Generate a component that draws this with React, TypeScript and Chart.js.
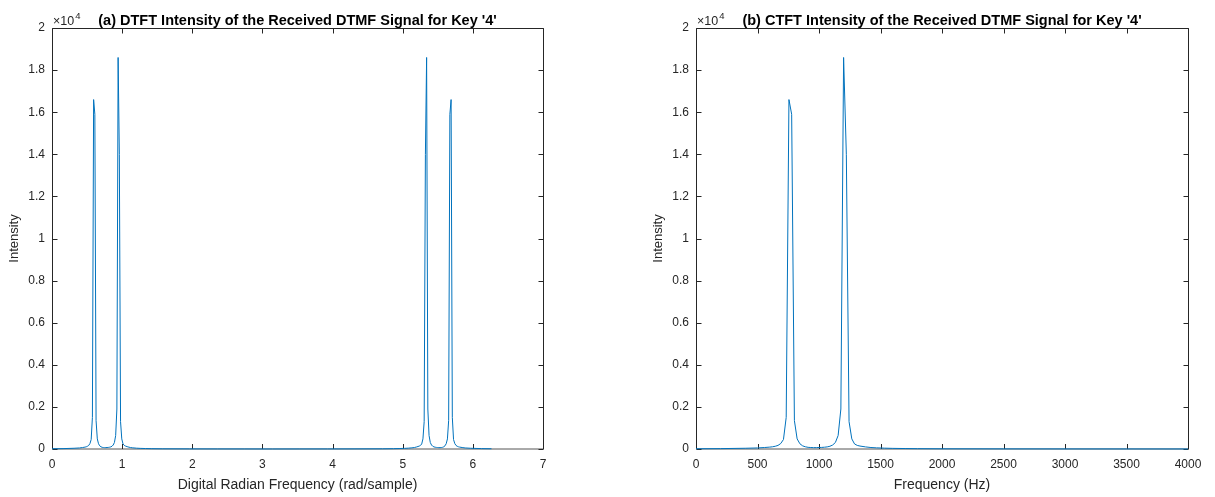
import React, { useEffect, useRef } from "react";
import { Chart, registerables } from "chart.js";

Chart.register(...registerables);

// ---------- data ----------
const dtftOmega = [
  0, 0.1571, 0.3142, 0.3927, 0.4363, 0.4712, 0.4887, 0.5061, 0.5236, 0.5411, 0.5585, 0.576, 0.5934, 0.6109,
  0.6283, 0.6458, 0.6632, 0.6807, 0.6981, 0.7156, 0.733, 0.7505, 0.7679, 0.7854, 0.8029, 0.8203, 0.8378,
  0.8552, 0.8727, 0.8901, 0.9076, 0.925, 0.9425, 0.9599, 0.9774, 0.9948, 1.0123, 1.0297, 1.0472, 1.0821,
  1.117, 1.1519, 1.2043, 1.2566, 1.3352, 1.4137, 1.5708, 1.9635, 2.3562, 2.7489, 3.1416,
  3.5343, 3.927, 4.3197, 4.7124, 4.8695, 4.948, 5.0266, 5.0789, 5.1313, 5.1662, 5.2011, 5.236, 5.2535,
  5.2709, 5.2884, 5.3058, 5.3233, 5.3407, 5.3582, 5.3756, 5.3931, 5.4105, 5.428, 5.4454, 5.4629, 5.4803,
  5.4978, 5.5153, 5.5327, 5.5502, 5.5676, 5.5851, 5.6025, 5.62, 5.6374, 5.6549, 5.6723, 5.6898, 5.7072,
  5.7247, 5.7421, 5.7596, 5.7771, 5.7945, 5.812, 5.8469, 5.8905, 5.969, 6.1261, 6.2657,
];
const dtftIntensity = [
  12, 18, 35, 50, 70, 90, 105, 130, 170, 260, 450, 1500, 16600, 15900, 1350, 480, 250, 150, 105, 80, 70, 65,
  65, 70, 75, 85, 100, 130, 190, 310, 640, 1900, 18600, 14000, 1300, 480, 240, 170, 140, 100, 70, 55, 40, 30,
  22, 16, 10, 6, 4, 3, 2,
  3, 4, 6, 10, 16, 22, 30, 40, 55, 70, 100, 140, 170, 240, 480, 1300, 14000, 18600, 1900, 640, 310, 190, 130,
  100, 85, 75, 70, 65, 65, 70, 80, 105, 150, 250, 480, 1350, 15900, 16600, 1500, 450, 260, 170, 130, 105, 90,
  70, 50, 35, 18, 12,
];

const ctftFreq = [
  0, 200, 400, 500, 555.6, 600, 622.2, 644.4, 666.7, 688.9, 711.1, 733.3, 755.6, 777.8, 800, 822.2, 844.4,
  866.7, 888.9, 911.1, 933.3, 955.6, 977.8, 1000, 1022.2, 1044.4, 1066.7, 1088.9, 1111.1, 1133.3, 1155.6,
  1177.8, 1200, 1222.2, 1244.4, 1266.7, 1288.9, 1311.1, 1333.3, 1377.8, 1422.2, 1466.7, 1533.3, 1600, 1700,
  1800, 2000, 2500, 3000, 3500, 4000,
];
const ctftIntensity = [
  12, 18, 35, 50, 70, 90, 105, 130, 170, 260, 450, 1500, 16600, 15900, 1350, 480, 250, 150, 105, 80, 70, 65,
  65, 70, 75, 85, 100, 130, 190, 310, 640, 1900, 18600, 14000, 1300, 480, 240, 170, 140, 100, 70, 55, 40, 30,
  22, 16, 10, 6, 4, 3, 2,
];

const titleA = "(a) DTFT Intensity of the Received DTMF Signal for Key '4'";
const titleB = "(b) CTFT Intensity of the Received DTMF Signal for Key '4'";
const xLabelA = "Digital Radian Frequency (rad/sample)";
const xLabelB = "Frequency (Hz)";
const yLabel = "Intensity";
const yMax = 20000;
const yStep = 2000;

// ---------- styling ----------
const FONT = '"Liberation Sans", Arial, Helvetica, sans-serif';
const TEXT = "#262626";
const LINE = "#0072BD";
const H = 497;

function framePlugin(title: string) {
  return {
    id: "matlabFrame",
    beforeDatasetsDraw(chart: any) {
      const { ctx, chartArea: a, scales } = chart;
      const xs = scales.x;
      const ys = scales.y;
      const L = Math.round(a.left) + 0.5;
      const R = Math.round(a.right) + 0.5;
      const T = Math.round(a.top) + 0.5;
      const B = Math.round(a.bottom);
      ctx.save();
      ctx.lineWidth = 1;
      ctx.strokeStyle = TEXT;
      ctx.beginPath();
      ctx.moveTo(L, B);
      ctx.lineTo(L, T);
      ctx.lineTo(R, T);
      ctx.lineTo(R, B);
      ctx.stroke();
      ctx.strokeStyle = "#555555";
      ctx.beginPath();
      ctx.moveTo(L, B);
      ctx.lineTo(R, B);
      ctx.stroke();
      ctx.strokeStyle = TEXT;
      const tl = 5;
      ctx.beginPath();
      xs.ticks.forEach((t: any) => {
        const px = Math.round(xs.getPixelForValue(t.value)) + 0.5;
        ctx.moveTo(px, B);
        ctx.lineTo(px, B - tl);
        ctx.moveTo(px, T);
        ctx.lineTo(px, T + tl);
      });
      ys.ticks.forEach((t: any) => {
        const py = Math.round(ys.getPixelForValue(t.value)) + 0.5;
        ctx.moveTo(L, py);
        ctx.lineTo(L + tl, py);
        ctx.moveTo(R, py);
        ctx.lineTo(R - tl, py);
      });
      ctx.stroke();
      ctx.restore();
    },
    afterDraw(chart: any) {
      const { ctx, chartArea: a } = chart;
      ctx.save();
      ctx.fillStyle = TEXT;
      ctx.textBaseline = "alphabetic";
      // exponent label
      ctx.textAlign = "left";
      ctx.font = `12.5px ${FONT}`;
      const base = "\u00d710";
      ctx.fillText(base, a.left + 1, 25);
      const w = ctx.measureText(base).width;
      ctx.font = `9.5px ${FONT}`;
      ctx.fillText("4", a.left + 1 + w + 1, 19);
      // title
      ctx.font = `bold 14.5px ${FONT}`;
      ctx.textAlign = "center";
      ctx.fillStyle = "#000000";
      ctx.fillText(title, (a.left + a.right) / 2, 25);
      ctx.restore();
    },
  };
}

function buildChart(
  canvas: HTMLCanvasElement,
  xs: number[],
  ys: number[],
  xMax: number,
  xStep: number,
  xLabel: string,
  title: string,
  padL: number,
  padR: number
) {
  return new Chart(canvas, {
    type: "line",
    data: {
      datasets: [
        {
          data: xs.map((x, i) => ({ x, y: ys[i] })),
          borderColor: LINE,
          borderWidth: 1,
          pointRadius: 0,
          fill: false,
          tension: 0,
          clip: false as any,
        },
      ],
    },
    options: {
      animation: false,
      responsive: false,
      devicePixelRatio: 1,
      layout: { padding: { left: padL, right: padR, top: 28, bottom: 0 } },
      plugins: { legend: { display: false }, tooltip: { enabled: false }, title: { display: false } },
      scales: {
        x: {
          type: "linear",
          min: 0,
          max: xMax,
          ticks: {
            stepSize: xStep,
            color: TEXT,
            font: { family: FONT, size: 12 },
            padding: 8,
            maxRotation: 0,
            autoSkip: false,
            callback: (v: any) => String(v),
          },
          grid: { display: false, drawTicks: false },
          border: { display: false },
          title: {
            display: true,
            text: xLabel,
            color: TEXT,
            font: { family: FONT, size: 14 },
            padding: { top: 0, bottom: 3 },
          },
          afterFit: (s: any) => {
            s.height = 48;
          },
        },
        y: {
          type: "linear",
          min: 0,
          max: yMax,
          ticks: {
            stepSize: yStep,
            color: TEXT,
            font: { family: FONT, size: 12 },
            padding: 7,
            callback: (v: any) => String(Math.round(Number(v) / 1000) / 10),
          },
          grid: { display: false, drawTicks: false },
          border: { display: false },
          title: {
            display: true,
            text: yLabel,
            color: TEXT,
            font: { family: FONT, size: 13 },
            padding: { top: 7, bottom: 0 },
          },
          afterFit: (s: any) => {
            s.width = 52;
          },
        },
      },
    },
    plugins: [framePlugin(title)],
  } as any);
}

export default function App() {
  const leftRef = useRef<HTMLCanvasElement>(null);
  const rightRef = useRef<HTMLCanvasElement>(null);

  useEffect(() => {
    const c1 = buildChart(leftRef.current!, dtftOmega, dtftIntensity, 7, 1, xLabelA, titleA, 0, 64);
    const c2 = buildChart(rightRef.current!, ctftFreq, ctftIntensity, 4000, 500, xLabelB, titleB, 37, 27);
    return () => {
      c1.destroy();
      c2.destroy();
    };
  }, []);

  return (
    <div style={{ position: "fixed", left: 0, top: 0, width: 1215, height: H, background: "#ffffff" }}>
      <canvas
        ref={leftRef}
        width={607}
        height={H}
        style={{ position: "absolute", left: 0, top: 0, width: 607, height: H }}
      />
      <canvas
        ref={rightRef}
        width={608}
        height={H}
        style={{ position: "absolute", left: 607, top: 0, width: 608, height: H }}
      />
    </div>
  );
}
